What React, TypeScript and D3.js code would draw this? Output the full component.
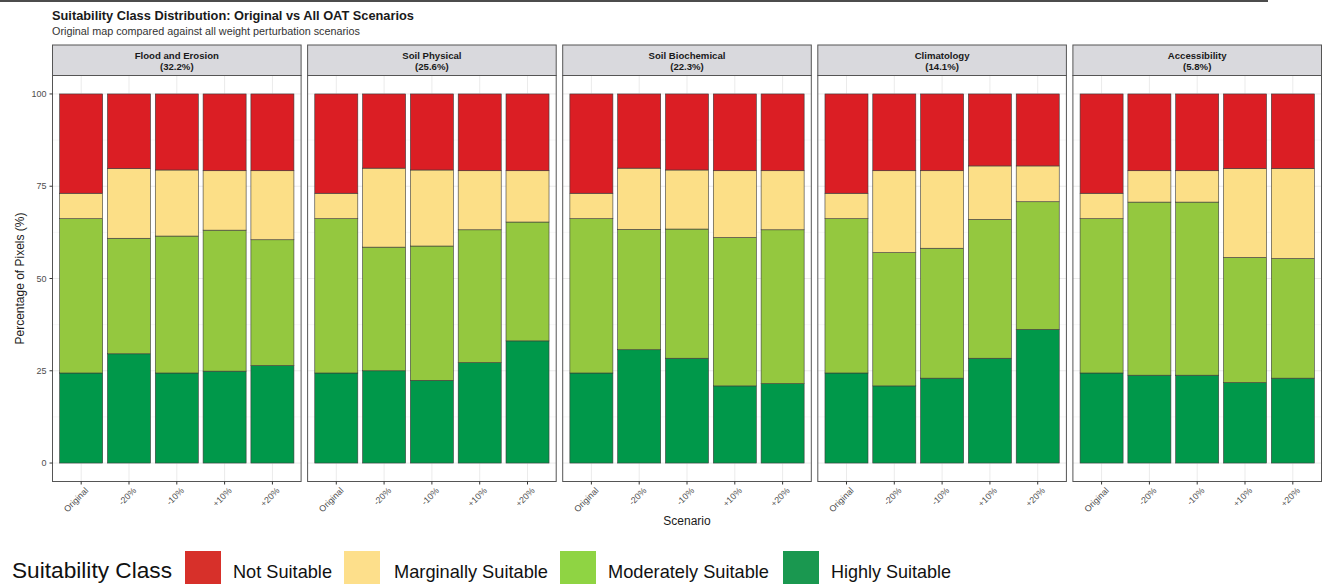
import React from "react";
import * as d3 from "d3";

const facets = ["Flood and Erosion", "Soil Physical", "Soil Biochemical", "Climatology", "Accessibility"];
const facetWeights = ["32.2%", "25.6%", "22.3%", "14.1%", "5.8%"];
const scenarios = ["Original", "-20%", "-10%", "+10%", "+20%"];
const classKeys = ["highly", "moderately", "marginally", "notSuitable"];
const legendOrder = ["Not Suitable", "Marginally Suitable", "Moderately Suitable", "Highly Suitable"];
const highly = [
  [24.4, 29.6, 24.4, 24.9, 26.4],
  [24.4, 25.0, 22.4, 27.2, 33.1],
  [24.4, 30.7, 28.4, 20.9, 21.5],
  [24.4, 20.9, 23.0, 28.4, 36.2],
  [24.4, 23.8, 23.8, 21.8, 23.0],
];
const moderately = [
  [41.8, 31.3, 37.1, 38.2, 34.1],
  [41.8, 33.5, 36.4, 36.0, 32.2],
  [41.8, 32.6, 35.0, 40.2, 41.7],
  [41.8, 36.1, 35.2, 37.6, 34.6],
  [41.8, 46.9, 46.9, 33.9, 32.4],
];
const marginally = [
  [6.9, 18.9, 17.9, 16.1, 18.7],
  [6.9, 21.4, 20.6, 16.0, 13.9],
  [6.9, 16.6, 16.0, 18.1, 16.0],
  [6.9, 22.2, 21.0, 14.5, 9.7],
  [6.9, 8.5, 8.5, 24.1, 24.4],
];
const notSuitable = [
  [26.9, 20.2, 20.6, 20.8, 20.8],
  [26.9, 20.1, 20.6, 20.8, 20.8],
  [26.9, 20.1, 20.6, 20.8, 20.8],
  [26.9, 20.8, 20.8, 19.5, 19.5],
  [26.9, 20.8, 20.8, 20.2, 20.2],
];
const yTicks = [0, 25, 50, 75, 100];
const yMinor = [12.5, 37.5, 62.5, 87.5];

const barColors: Record<string, string> = {
  highly: "#00984a",
  moderately: "#94c83f",
  marginally: "#fcdf87",
  notSuitable: "#db1e24",
};
const legendColors: Record<string, string> = {
  "Not Suitable": "#d7302a",
  "Marginally Suitable": "#fddf8b",
  "Moderately Suitable": "#8fd443",
  "Highly Suitable": "#1a9850",
};

const W = 1324;
const H = 584;
const plotLeft = 52.5;
const plotRight = 1321.5;
const gap = 6.5;
const panelTop = 75.5;
const panelBottom = 481.5;
const stripTop = 45;

export default function App() {
  const font = "Liberation Sans, Arial, Helvetica, sans-serif";
  const panelW = (plotRight - plotLeft - gap * (facets.length - 1)) / facets.length;
  const y = d3.scaleLinear().domain([-5, 105]).range([panelBottom, panelTop]);
  const x = d3.scaleBand<string>().domain(scenarios).range([0, panelW]).paddingInner(0.1).paddingOuter(0.15);

  const seriesData = [highly, moderately, marginally, notSuitable];

  return (
    <svg width={W} height={H} style={{ position: "absolute", left: 0, top: 0, background: "#fff" }} fontFamily={font}>
      <line x1={0} x2={1268} y1={1} y2={1} stroke="#111" strokeWidth={1.5} />
      <text x={52} y={20} fontSize={12.8} fontWeight="bold" fill="#1a1a1a">
        Suitability Class Distribution: Original vs All OAT Scenarios
      </text>
      <text x={52} y={35} fontSize={10.8} fill="#333">
        Original map compared against all weight perturbation scenarios
      </text>

      {facets.map((f, fi) => {
        const px = plotLeft + fi * (panelW + gap);
        const rows = scenarios.map((s, si) => {
          const row: any = { scenario: s };
          classKeys.forEach((k, ki) => (row[k] = seriesData[ki][fi][si]));
          return row;
        });
        const stacked = d3.stack<any>().keys(classKeys)(rows);
        return (
          <g key={f} transform={`translate(${px},0)`}>
            <rect x={0} y={stripTop} width={panelW} height={panelTop - stripTop} fill="#d9d9dd" stroke="#555" strokeWidth={1} />
            <text x={panelW / 2} y={58.5} textAnchor="middle" fontSize={9.6} fontWeight="bold" fill="#1a1a1a">
              {f}
            </text>
            <text x={panelW / 2} y={70} textAnchor="middle" fontSize={9.6} fontWeight="bold" fill="#1a1a1a">
              ({facetWeights[fi]})
            </text>
            <rect x={0} y={panelTop} width={panelW} height={panelBottom - panelTop} fill="#fff" />
            {yMinor.map((t) => (
              <line key={"m" + t} x1={0} x2={panelW} y1={y(t)} y2={y(t)} stroke="#f2f2f2" strokeWidth={0.6} />
            ))}
            {yTicks.map((t) => (
              <line key={"g" + t} x1={0} x2={panelW} y1={y(t)} y2={y(t)} stroke="#ebebeb" strokeWidth={1} />
            ))}
            {scenarios.map((s) => (
              <line key={"v" + s} x1={x(s)! + x.bandwidth() / 2} x2={x(s)! + x.bandwidth() / 2} y1={panelTop} y2={panelBottom} stroke="#ebebeb" strokeWidth={1} />
            ))}
            {stacked.map((layer) =>
              layer.map((d, i) => (
                <rect
                  key={layer.key + i}
                  x={x(scenarios[i])}
                  y={y(d[1])}
                  width={x.bandwidth()}
                  height={y(d[0]) - y(d[1])}
                  fill={barColors[layer.key]}
                  stroke="#3a3a3a"
                  strokeWidth={0.6}
                />
              ))
            )}
            <rect x={0} y={panelTop} width={panelW} height={panelBottom - panelTop} fill="none" stroke="#555" strokeWidth={1} />
            {scenarios.map((s) => {
              const cx = x(s)! + x.bandwidth() / 2;
              return (
                <g key={"t" + s}>
                  <line x1={cx} x2={cx} y1={panelBottom} y2={panelBottom + 3} stroke="#333" strokeWidth={1} />
                  <text
                    transform={`translate(${cx + 4},${panelBottom + 6}) rotate(-45)`}
                    textAnchor="end"
                    dy="0.6em"
                    fontSize={8.8}
                    fill="#4d4d4d"
                  >
                    {s}
                  </text>
                </g>
              );
            })}
          </g>
        );
      })}

      {yTicks.map((t) => (
        <g key={"yt" + t}>
          <line x1={plotLeft - 3} x2={plotLeft} y1={y(t)} y2={y(t)} stroke="#333" strokeWidth={1} />
          <text x={plotLeft - 6} y={y(t)} dy="0.35em" textAnchor="end" fontSize={9} fill="#4d4d4d">
            {t}
          </text>
        </g>
      ))}
      <text transform={`translate(24,${(panelTop + panelBottom) / 2}) rotate(-90)`} textAnchor="middle" fontSize={12} fill="#1a1a1a">
        Percentage of Pixels (%)
      </text>
      <text x={(plotLeft + plotRight) / 2} y={525} textAnchor="middle" fontSize={12} fill="#1a1a1a">
        Scenario
      </text>

      <text x={12} y={578} fontSize={22} fill="#111" textLength={160} lengthAdjust="spacingAndGlyphs">
        Suitability Class
      </text>
      {legendOrder.map((c, i) => {
        const keyX = [185, 344, 560, 783][i];
        const txtX = [233, 394, 608, 831][i];
        const txtW = [99, 154, 161, 120][i];
        return (
          <g key={c}>
            <rect x={keyX} y={551} width={36} height={34} fill={legendColors[c]} />
            <text x={txtX} y={578} fontSize={18.5} fill="#111" textLength={txtW} lengthAdjust="spacingAndGlyphs">
              {c}
            </text>
          </g>
        );
      })}
    </svg>
  );
}
